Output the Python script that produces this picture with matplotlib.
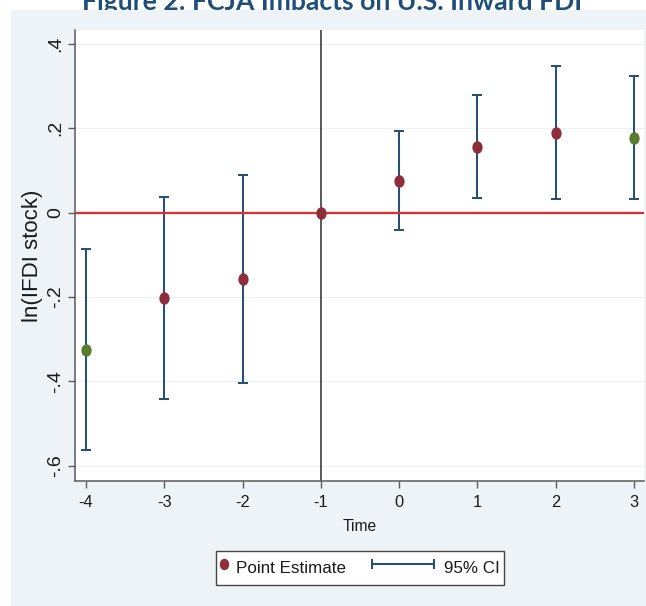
import numpy as np
import matplotlib
matplotlib.use("Agg")
import matplotlib.pyplot as plt
from matplotlib import font_manager
from matplotlib.lines import Line2D
from matplotlib.legend_handler import HandlerLine2D
from matplotlib.patches import Rectangle
from matplotlib.path import Path
from matplotlib.transforms import Affine2D

# ---------------- data ----------------
title = "Figure 2: FCJA Impacts on U.S. Inward FDI"
periods = [-4, -3, -2, -1, 0, 1, 2, 3]
estimates = [-0.325, -0.203, -0.158, 0.0, 0.076, 0.156, 0.189, 0.177]
ci_low = [-0.564, -0.441, -0.403, 0.0, -0.042, 0.035, 0.032, 0.032]
ci_high = [-0.087, 0.036, 0.088, 0.0, 0.194, 0.279, 0.348, 0.324]
point_kind = ["green", "red", "red", "red", "red", "red", "red", "green"]
yticks = [-0.6, -0.4, -0.2, 0.0, 0.2, 0.4]
ytick_labels = ["-.6", "-.4", "-.2", "0", ".2", ".4"]
xticks = [-4, -3, -2, -1, 0, 1, 2, 3]
xtick_labels = ["-4", "-3", "-2", "-1", "0", "1", "2", "3"]
ref_period = -1
xlabel = "Time"
ylabel = "ln(IFDI stock)"
legend_labels = ["Point Estimate", "95% CI"]

# ---------------- style ----------------
W, H, DPI = 646, 606, 100
RED_PT = "#8f2d38"
GREEN_PT = "#5a7a2f"
NAVY = "#26507a"
LINE_RED = "#ea2a2e"
PANEL = "#eef3f8"
AX_GRAY = "#5a5a5a"
TITLE_BLUE = "#1f4e79"

plt.rcParams["font.family"] = ["Liberation Sans", "DejaVu Sans"]

names = {f.name for f in font_manager.fontManager.ttflist}
NARROW = "Liberation Sans Narrow" in names
HFAM = ["Liberation Sans Narrow", "Liberation Sans", "DejaVu Sans"] if NARROW else ["Liberation Sans", "DejaVu Sans"]
K = 1 / 0.82 if NARROW else 1.08

def px2pt(px):
    return px * 72.0 / DPI

fig = plt.figure(figsize=(W / DPI, H / DPI), dpi=DPI)
fig.patch.set_facecolor("white")

# light graph region panel
panel = Rectangle((11 / W, 0), 1 - 11 / W, 1 - 10 / H, transform=fig.transFigure,
                  facecolor=PANEL, edgecolor="none", zorder=1)
fig.patches.append(panel)

# title (partly hidden under the panel, as in the reference)
t = fig.text(332 / W, 1 - 10 / H, title, ha="center", va="baseline",
             family=["Lato", "DejaVu Sans"], fontweight="bold", color=TITLE_BLUE,
             fontsize=18, zorder=0.5)
r = fig.canvas.get_renderer()
wpx = t.get_window_extent(renderer=r).width
t.set_fontsize(18 * 500.0 / wpx)

# axes
left, right, top, bottom = 75, 644, 30, 481
ax = fig.add_axes([left / W, 1 - bottom / H, (right - left) / W, (bottom - top) / H])
ax.set_zorder(2)
ax.set_facecolor("white")

ax.set_xlim(-4.14, 3.128)
ax.set_ylim(-0.6365, 0.433)

for yv in yticks:
    ax.axhline(yv, color="#efefef", lw=0.8, zorder=0.5)

ax.axvline(ref_period, color="#3c3c3c", lw=1.2, zorder=1)

x = np.array(periods, dtype=float)
est = np.array(estimates)
lo = np.array(ci_low)
hi = np.array(ci_high)
has_ci = hi > lo
ax.errorbar(x[has_ci], est[has_ci], yerr=[est[has_ci] - lo[has_ci], hi[has_ci] - est[has_ci]],
            fmt="none", ecolor=NAVY, elinewidth=1.45, capsize=3.4, capthick=1.45, zorder=2)

ax.axhline(0, color=LINE_RED, lw=1.6, zorder=2.5)

ell = Path.unit_circle().transformed(Affine2D().scale(0.82, 1.0))
cmap = {"red": RED_PT, "green": GREEN_PT}
for xi, yi, kind in zip(periods, estimates, point_kind):
    ax.plot([xi], [yi], linestyle="none", marker=ell, markersize=px2pt(12.5),
            color=cmap[kind], markeredgewidth=0, zorder=3)

# axes styling
for s in ["top", "right"]:
    ax.spines[s].set_visible(False)
for s in ["left", "bottom"]:
    ax.spines[s].set_color(AX_GRAY)
    ax.spines[s].set_linewidth(1.1)

ax.set_yticks(yticks)
ax.set_yticklabels(ytick_labels, rotation=90, va="center", fontsize=14, color="#1a1a1a")
ax.set_xticks(xticks)
ax.set_xticklabels(xtick_labels, family=HFAM, fontsize=px2pt(15.2) * K, color="#1a1a1a")
ax.tick_params(axis="both", direction="out", length=5, width=1, color=AX_GRAY)
ax.tick_params(axis="y", pad=2.5)
ax.tick_params(axis="x", pad=5)

ax.set_xlabel(xlabel, family=HFAM, fontsize=px2pt(14.5) * K, color="#1a1a1a")
ax.xaxis.set_label_coords(0.5, -(531 - bottom) / (bottom - top))
ax.xaxis.label.set_va("baseline")

ax.set_ylabel(ylabel, fontsize=16, color="#1a1a1a")
ax.yaxis.set_label_coords((43 - left) / (right - left), 0.5)

# legend
class FixedWidthHandler(HandlerLine2D):
    def __init__(self, width_px, **kw):
        super().__init__(**kw)
        self.width_px = width_px

    def legend_artist(self, legend, orig_handle, fontsize, handlebox):
        handlebox.width = px2pt(self.width_px)
        return super().legend_artist(legend, orig_handle, fontsize, handlebox)

h_pt = Line2D([], [], linestyle="none", marker=ell, markersize=px2pt(11.5),
              color=RED_PT, markeredgewidth=0)
h_ci = Line2D([], [], color=NAVY, lw=1.45, marker="|", markersize=px2pt(9.5),
              markeredgewidth=1.45)

leg_fs_pt = px2pt(16.3) * (K if NARROW else 1.04)
F = leg_fs_pt * DPI / 72.0  # legend font size in px
leg = fig.legend([h_pt, h_ci], legend_labels,
                 handler_map={h_pt: FixedWidthHandler(6, numpoints=1),
                              h_ci: FixedWidthHandler(62, numpoints=2, marker_pad=0)},
                 ncol=2, loc="center", bbox_to_anchor=(360 / W, 1 - 568 / H),
                 frameon=True, fancybox=False, shadow=False, framealpha=1,
                 facecolor="white", edgecolor="#454545",
                 borderpad=5 / F, handletextpad=9.5 / F, columnspacing=26 / F,
                 handleheight=32 / F,
                 prop={"family": HFAM, "size": leg_fs_pt})
leg.get_frame().set_linewidth(1.0)
for txt in leg.get_texts():
    txt.set_color("#1a1a1a")
leg.set_zorder(5)

fig.savefig("out.png", dpi=DPI, facecolor="white")
